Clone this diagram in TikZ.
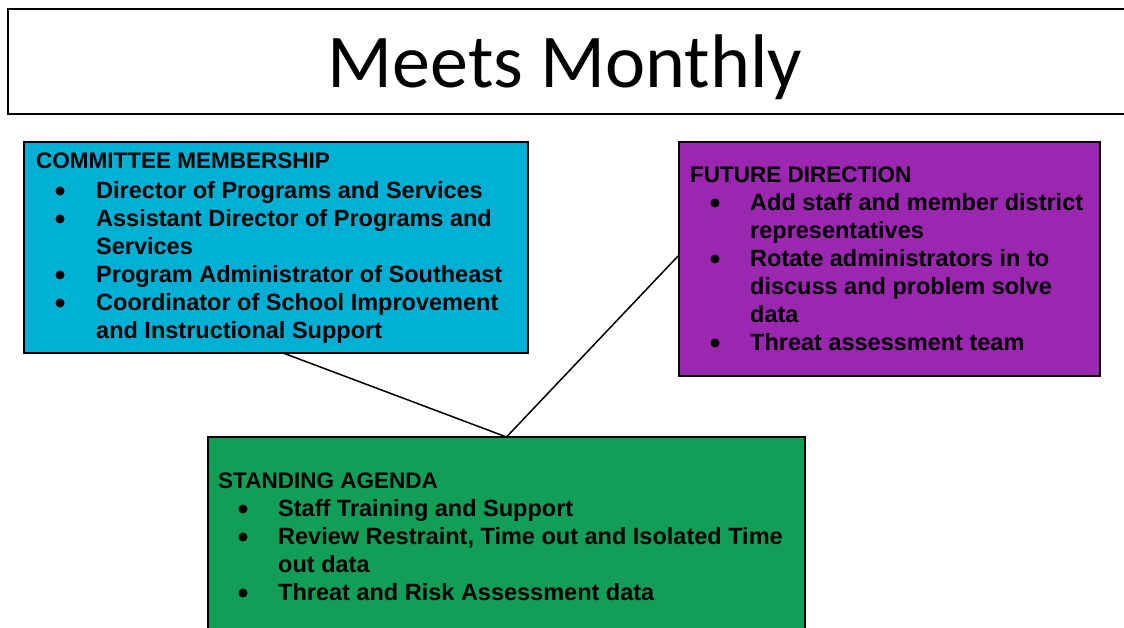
\documentclass[tikz,border=0pt]{standalone}
\usepackage{fontspec}
\setmainfont{Liberation Sans}
\newfontfamily\titlefont{Carlito}
\usetikzlibrary{calc}
\definecolor{cmblue}{RGB}{0,176,212}
\definecolor{cmpurple}{RGB}{155,38,175}
\definecolor{cmgreen}{RGB}{18,158,86}
\tikzset{
  panel/.style={draw=black, line width=1.6pt, anchor=north west, inner sep=0pt, outer sep=0pt},
  hdr/.style={anchor=base west, inner sep=0pt, font=\bfseries\fontsize{22.5}{24}\selectfont},
  txt/.style={anchor=base west, inner sep=0pt, font=\bfseries\fontsize{23.5}{26}\selectfont},
  dot/.style={circle, fill=black, inner sep=0pt, minimum size=9pt},
  link/.style={draw=black, line width=1.5pt}
}
\begin{document}
\begin{tikzpicture}[x=1pt,y=-1pt]
\useasboundingbox (0,0) rectangle (1124,628);
\fill[white] (0,0) rectangle (1124,628);
% title
\node[panel, fill=white, minimum width=1130pt, minimum height=105pt] (title) at (8,9) {};
\node[anchor=base, inner sep=0pt, font=\titlefont\fontsize{76}{76}\selectfont] (titletext) at (565,88) {Meets Monthly};
% panels
\node[panel, fill=cmblue, minimum width=504pt, minimum height=211pt] (blue) at (24,142) {};
\node[panel, fill=cmpurple, minimum width=421pt, minimum height=234pt] (purple) at (679,142) {};
\node[panel, fill=cmgreen, minimum width=597pt, minimum height=220pt] (green) at (208,437) {};
% connectors
\draw[link] ($(blue.south west)!0.514!(blue.south east)$) -- (green.north);
\draw[link] ($(purple.north west)!0.483!(purple.south west)$) -- (green.north);
% blue text
\node[hdr] (bh) at (36,168.5) {COMMITTEE MEMBERSHIP};
\node[dot] (bd1) at (60,191) {};
\node[txt] (b1) at (96,198.5) {Director of Programs and Services};
\node[dot] (bd2) at (60,219) {};
\node[txt] (b2) at (96,226.5) {Assistant Director of Programs and};
\node[txt] (b2b) at (96,254.5) {Services};
\node[dot] (bd3) at (60,275) {};
\node[txt] (b3) at (96,282.5) {Program Administrator of Southeast};
\node[dot] (bd4) at (60,303) {};
\node[txt] (b4) at (96,310.5) {Coordinator of School Improvement};
\node[txt] (b4b) at (96,338.5) {and Instructional Support};
% purple text
\node[hdr] (ph) at (690,183) {FUTURE DIRECTION};
\node[dot] (pd1) at (715,203) {};
\node[txt] (p1) at (750,210.5) {Add staff and member district};
\node[txt] (p1b) at (750,238.5) {representatives};
\node[dot] (pd2) at (715,259) {};
\node[txt] (p2) at (750,266.5) {Rotate administrators in to};
\node[txt] (p2b) at (750,294.5) {discuss and problem solve};
\node[txt] (p2c) at (750,322.5) {data};
\node[dot] (pd3) at (715,343) {};
\node[txt] (p3) at (750,350.5) {Threat assessment team};
% green text
\node[hdr] (gh) at (218,488.5) {STANDING AGENDA};
\node[dot] (gd1) at (243,509) {};
\node[txt] (g1) at (278,516.5) {Staff Training and Support};
\node[dot] (gd2) at (243,537) {};
\node[txt] (g2) at (278,544.5) {Review Restraint, Time out and Isolated Time};
\node[txt] (g2b) at (278,572.5) {out data};
\node[dot] (gd3) at (243,593) {};
\node[txt] (g3) at (278,600.5) {Threat and Risk Assessment data};
\end{tikzpicture}
\end{document}
